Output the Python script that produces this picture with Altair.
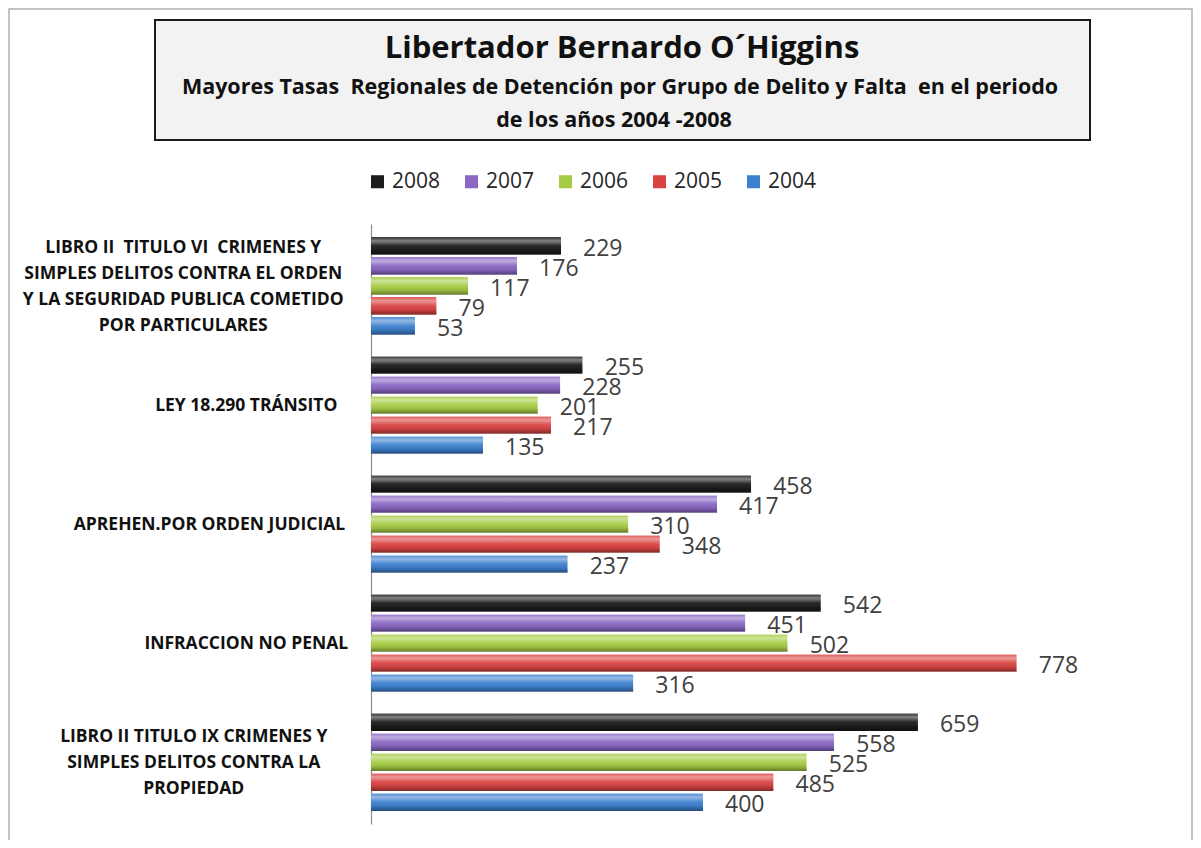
import altair as alt
import pandas as pd

# ---- data ----
category_lines = [
    ["LIBRO II  TITULO VI  CRIMENES Y", "SIMPLES DELITOS CONTRA EL ORDEN",
     "Y LA SEGURIDAD PUBLICA COMETIDO", "POR PARTICULARES"],
    ["LEY 18.290 TRÁNSITO"],
    ["APREHEN.POR ORDEN JUDICIAL"],
    ["INFRACCION NO PENAL"],
    ["LIBRO II TITULO IX CRIMENES Y", "SIMPLES DELITOS CONTRA LA", "PROPIEDAD"],
]
years = ["2008", "2007", "2006", "2005", "2004"]
v2008 = [229, 255, 458, 542, 659]
v2007 = [176, 228, 417, 451, 558]
v2006 = [117, 201, 310, 502, 525]
v2005 = [79, 217, 348, 778, 485]
v2004 = [53, 135, 237, 316, 400]
series = [v2008, v2007, v2006, v2005, v2004]
colors = ["#1c1c1c", "#8a68c4", "#a6cc45", "#d94442", "#3d80cf"]

title_text = "Libertador Bernardo O´Higgins"
subtitle_1 = "Mayores Tasas\u00a0 Regionales de Detención por Grupo de Delito y Falta\u00a0 en el periodo"
subtitle_2 = "de los años 2004 -2008"

NB = "\u00a0"
cat_names = [" ".join(l) for l in category_lines]

rows = []
for y, vals in zip(years, series):
    for c, v in zip(cat_names, vals):
        rows.append({"cat": c, "year": y, "value": v})
df = pd.DataFrame(rows)

lab_df = pd.DataFrame({
    "cat": cat_names,
    "text": ["|".join(s.replace("  ", " " + NB) for s in l) for l in category_lines],
    "nchars": [max(len(s) for s in l) for l in category_lines],
    "nlines": [len(l) for l in category_lines],
})

LH = 26

y_enc = alt.Y("cat:N", sort=cat_names,
              scale=alt.Scale(paddingInner=0.18, paddingOuter=0.11),
              axis=alt.Axis(labels=False, ticks=False, title=None,
                            domainColor="#8c8c8c", domainWidth=1.2, grid=False))
yoff = alt.YOffset("year:N", sort=years, scale=alt.Scale(paddingInner=0.12))
x_enc = alt.X("value:Q", scale=alt.Scale(domain=[0, 900]), axis=None)

base = alt.Chart(df)

bars = base.mark_bar(cornerRadius=1).encode(
    y=y_enc, yOffset=yoff, x=x_enc,
    color=alt.Color("year:N", sort=years,
                    scale=alt.Scale(domain=years, range=colors),
                    legend=alt.Legend(orient="none", direction="horizontal",
                                      legendX=-4, legendY=-53, title=None,
                                      symbolType="square", symbolSize=170,
                                      symbolStrokeWidth=0, labelFont="Open Sans",
                                      labelFontSize=21, labelColor="#262626",
                                      columnPadding=20, labelOffset=4)),
)

shine = base.mark_bar(
    fill=alt.Gradient(
        gradient="linear", x1=0, x2=0, y1=0, y2=1,
        stops=[
            alt.GradientStop(color="rgba(255,255,255,0.10)", offset=0),
            alt.GradientStop(color="rgba(255,255,255,0.45)", offset=0.22),
            alt.GradientStop(color="rgba(255,255,255,0.05)", offset=0.5),
            alt.GradientStop(color="rgba(0,0,0,0.10)", offset=0.75),
            alt.GradientStop(color="rgba(0,0,0,0.40)", offset=1),
        ],
    )
).encode(y=y_enc, yOffset=yoff, x=x_enc)

values = base.mark_text(align="left", baseline="middle", dx=22, dy=3,
                        font="Open Sans", fontSize=23, color="#404040").encode(
    y=y_enc, yOffset=yoff, x=x_enc, text="value:Q")

label_layers = []
for n in sorted(set(lab_df["nlines"])):
    label_layers.append(
        alt.Chart(lab_df).transform_filter(f"datum.nlines == {n}").transform_calculate(
            lx="-25 - datum.nchars * 5.25"
        ).mark_text(align="center", baseline="middle", lineBreak="|", lineHeight=LH,
                    dy=-(n - 1) * LH / 2 + 1,
                    font="Open Sans", fontWeight="bold", fontSize=17.5,
                    color="#111111").encode(
            y=alt.Y("cat:N", sort=cat_names), x=alt.X("lx:Q", scale=None),
            text="text:N")
    )

one = pd.DataFrame({"k": [0]})
title_box = alt.Chart(one).mark_rect(fill="#f2f2f2", stroke="#1a1a1a",
                                      strokeWidth=2).encode(
    x=alt.value(-216), x2=alt.value(719), y=alt.value(-204), y2=alt.value(-84))

frame = alt.Chart(one).mark_rect(fill=None, stroke="#b0b0b0", strokeWidth=1.5).encode(
    x=alt.value(-362), x2=alt.value(821), y=alt.value(-215), y2=alt.value(640))

title_mark = alt.Chart(one).mark_text(
    align="center", baseline="middle", font="Open Sans", fontWeight="bold",
    fontSize=31, color="#111111").encode(
    x=alt.value(251), y=alt.value(-175), text=alt.value(title_text))

sub1 = alt.Chart(one).mark_text(
    align="center", baseline="middle", font="Open Sans", fontWeight="bold",
    fontSize=21.5, color="#111111").encode(
    x=alt.value(249), y=alt.value(-136), text=alt.value(subtitle_1))

sub2 = alt.Chart(one).mark_text(
    align="center", baseline="middle", font="Open Sans", fontWeight="bold",
    fontSize=21.5, color="#111111").encode(
    x=alt.value(243), y=alt.value(-103), text=alt.value(subtitle_2))

chart = alt.layer(
    frame, title_box, title_mark, sub1, sub2, bars, shine, values, *label_layers
).properties(
    width=747, height=600,
    autosize=alt.AutoSizeParams(type="none"),
    padding={"left": 363, "top": 216, "right": 75, "bottom": 16},
    background="white",
).configure_view(stroke=None)

chart.save("out.html", embed_options={"renderer": "svg", "actions": False})
